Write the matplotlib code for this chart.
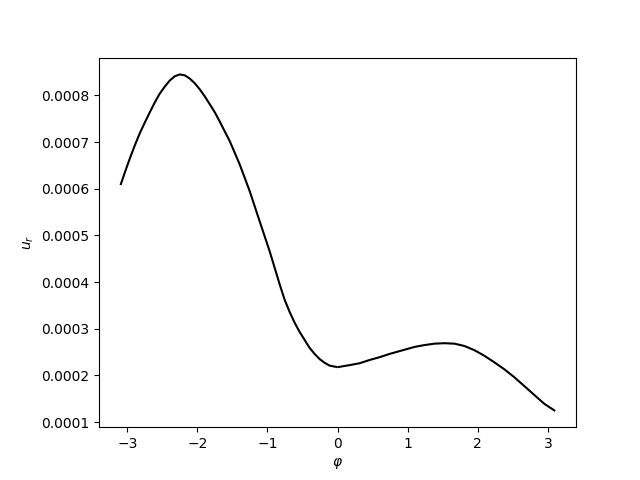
import matplotlib
matplotlib.use("Agg")
import matplotlib.pyplot as plt

# left branch (phi < 0)
phi_neg = [-3.091, -3.034, -2.963, -2.892, -2.821, -2.749, -2.678, -2.607, -2.536, -2.464,
           -2.393, -2.322, -2.251, -2.179, -2.108, -2.037, -1.966, -1.895, -1.823, -1.752,
           -1.681, -1.610, -1.538, -1.396, -1.254, -1.111, -0.969, -0.826, -0.755, -0.684,
           -0.613, -0.541, -0.470, -0.399, -0.328, -0.256, -0.185, -0.114, -0.014]
ur_neg = [0.000610, 0.000635, 0.000665, 0.000693, 0.000719, 0.000742, 0.000764, 0.000785,
          0.000804, 0.000819, 0.000832, 0.000841, 0.000845, 0.000843, 0.000836, 0.000826,
          0.000813, 0.000798, 0.000781, 0.000764, 0.000744, 0.000723, 0.000702, 0.000652,
          0.000595, 0.000530, 0.000466, 0.000395, 0.000362, 0.000336, 0.000313, 0.000293,
          0.000276, 0.000259, 0.000246, 0.000235, 0.000227, 0.000221, 0.000218]

# right branch (phi > 0)
phi_pos = [0.014, 0.171, 0.313, 0.456, 0.598, 0.741, 0.883, 1.097, 1.239, 1.382, 1.524,
           1.667, 1.809, 1.952, 2.094, 2.236, 2.379, 2.521, 2.664, 2.806, 2.949, 3.091]
ur_pos = [0.000218, 0.000222, 0.000226, 0.000233, 0.000239, 0.000246, 0.000252, 0.000261,
          0.000265, 0.000268, 0.000269, 0.000268, 0.000263, 0.000254, 0.000242, 0.000228,
          0.000213, 0.000196, 0.000177, 0.000158, 0.000139, 0.000125]

fig, ax = plt.subplots(figsize=(6.4, 4.8), dpi=100)
fig.subplots_adjust(left=0.155, right=0.9, bottom=0.11, top=0.88)
ax.plot(phi_neg, ur_neg, color="black")
ax.plot(phi_pos, ur_pos, color="black")
ax.set_xlabel(r"$\varphi$")
ax.set_ylabel(r"$u_r$")
fig.savefig("out.png")
